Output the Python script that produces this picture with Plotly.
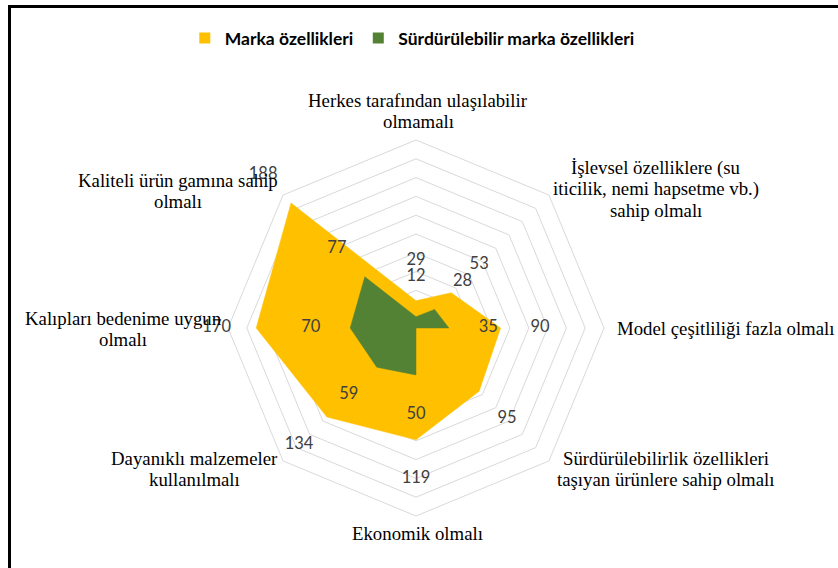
import plotly.graph_objects as go

categories = [
    "Herkes tarafından ulaşılabilir<br>olmamalı",
    "İşlevsel özelliklere (su<br>iticilik, nemi hapsetme vb.)<br>sahip olmalı",
    "Model çeşitliliği fazla olmalı",
    "Sürdürülebilirlik özellikleri<br>taşıyan ürünlere sahip olmalı",
    "Ekonomik olmalı",
    "Dayanıklı malzemeler<br>kullanılmalı",
    "Kalıpları bedenime uygun<br>olmalı",
    "Kaliteli ürün gamına sahip<br>olmalı",
]
marka = [29, 53, 90, 95, 119, 134, 170, 188]
surdurulebilir = [12, 28, 35, 0, 50, 59, 70, 77]
series_names = ["Marka özellikleri", "Sürdürülebilir marka özellikleri"]

YELLOW = "#FFC000"
GREEN = "#548235"
GRID = "#D9D9D9"
W, H = 838, 568
CX, CY, R = 416, 328, 188
RMAX = 200
RMAX_LABELS = 250
LABEL_OFFSET = 42  # radial offset of data labels (in data units)
LINE_SP = 21

# category label placement (pixel centre, xanchor)
cat_pos = [
    (418, 111, "center"),
    (656, 189, "center"),
    (615, 328, "left"),
    (666, 469, "center"),
    (417, 533, "center"),
    (194, 469, "center"),
    (123, 329, "center"),
    (178, 191, "center"),
]

fig = go.Figure()
theta = categories + [categories[0]]
for vals, col in [(marka, YELLOW), (surdurulebilir, GREEN)]:
    fig.add_trace(go.Scatterpolar(
        r=vals + [vals[0]], theta=theta, mode="lines", fill="toself",
        fillcolor=col, line=dict(color=col, width=0.5), showlegend=False,
        hoverinfo="skip", subplot="polar",
    ))
for vals in [marka, surdurulebilir]:
    fig.add_trace(go.Scatterpolar(
        r=[v + LABEL_OFFSET for v in vals], theta=categories, mode="text",
        text=[str(v) if v else "" for v in vals],
        textfont=dict(family="Lato", size=16.5, color="#404040"),
        cliponaxis=False, showlegend=False, hoverinfo="skip", subplot="polar2",
    ))
for name, col in [(series_names[0], YELLOW), (series_names[1], GREEN)]:
    fig.add_trace(go.Scatterpolar(
        r=[None], theta=[categories[0]], mode="markers", name="<b>" + name + "</b>",
        marker=dict(symbol="square", size=11, color=col), subplot="polar",
    ))

annotations = []
for cat, (px, py, xa) in zip(categories, cat_pos):
    lines = cat.split("<br>")
    n = len(lines)
    for i, ln in enumerate(lines):
        ly = py + (i - (n - 1) / 2) * LINE_SP
        annotations.append(dict(
            x=px / W, y=1 - ly / H, xref="paper", yref="paper", text=ln,
            showarrow=False, xanchor=xa, yanchor="middle", align="center",
            font=dict(family="Liberation Serif", size=18.8, color="#000000"),
        ))

R2 = R * RMAX_LABELS / RMAX
hidden_axis = dict(showticklabels=False, ticks="", showline=False, showgrid=False)
fig.update_layout(
    width=W, height=H, margin=dict(l=0, r=0, t=0, b=0),
    paper_bgcolor="white", plot_bgcolor="white",
    polar=dict(
        domain=dict(x=[(CX - R) / W, (CX + R) / W], y=[(H - CY - R) / H, (H - CY + R) / H]),
        bgcolor="white", gridshape="linear",
        radialaxis=dict(range=[0, RMAX], dtick=20, showticklabels=False, ticks="",
                        showline=False, gridcolor=GRID, gridwidth=1),
        angularaxis=dict(rotation=90, direction="clockwise", showticklabels=False,
                         ticks="", showgrid=False, showline=True, linecolor=GRID, linewidth=1),
    ),
    polar2=dict(
        domain=dict(x=[(CX - R2) / W, (CX + R2) / W], y=[(H - CY - R2) / H, (H - CY + R2) / H]),
        bgcolor="rgba(0,0,0,0)", gridshape="linear",
        radialaxis=dict(range=[0, RMAX_LABELS], **hidden_axis),
        angularaxis=dict(rotation=90, direction="clockwise", categoryarray=categories,
                         **hidden_axis),
    ),
    legend=dict(orientation="h", x=0.492, xanchor="center", y=1 - 38 / H, yanchor="middle",
                font=dict(family="Lato", size=17.5, color="#000000"), itemwidth=30,
                bgcolor="rgba(0,0,0,0)"),
    annotations=annotations,
    shapes=[dict(type="rect", xref="paper", yref="paper", x0=9.5 / W, x1=1.05,
                 y0=-0.05, y1=1 - 6.5 / H, line=dict(color="black", width=3))],
)

fig.write_html("out.html", config={"displayModeBar": False},
               post_script="document.body.style.margin='0px';")
